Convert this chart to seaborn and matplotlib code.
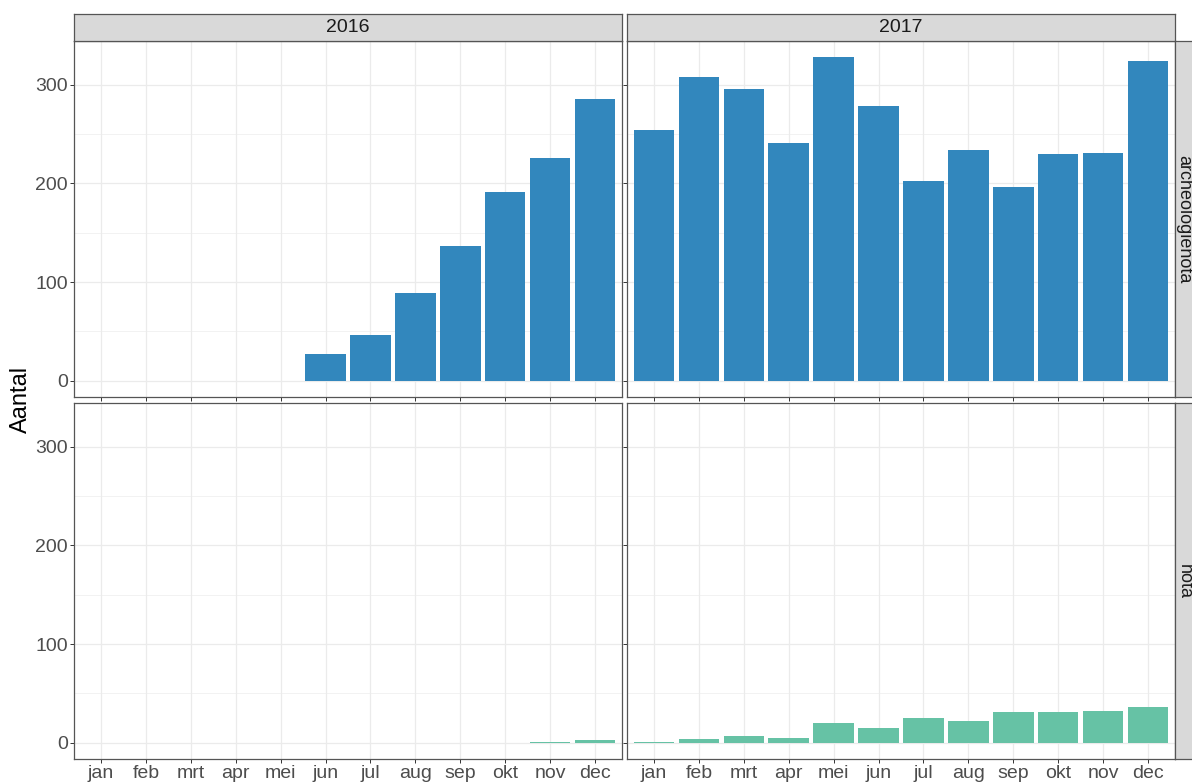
import numpy as np
import pandas as pd
import matplotlib
matplotlib.use("Agg")
import matplotlib.pyplot as plt
import seaborn as sns

# Monthly counts per year and document type
maanden = ["jan", "feb", "mrt", "apr", "mei", "jun", "jul", "aug", "sep", "okt", "nov", "dec"]
jaren = ["2016", "2017"]
soorten = ["archeologienota", "nota"]

archeologienota_2016 = [np.nan, np.nan, np.nan, np.nan, np.nan, 27, 46, 89, 137, 191, 226, 286]
archeologienota_2017 = [254, 308, 296, 241, 328, 279, 203, 234, 196, 230, 231, 324]
nota_2016 = [np.nan, np.nan, np.nan, np.nan, np.nan, np.nan, np.nan, np.nan, np.nan, np.nan, 1, 3]
nota_2017 = [1, 4, 7, 5, 20, 15, 25, 22, 31, 31, 32, 36]

kleuren = {"archeologienota": "#3287bd", "nota": "#66c2a5"}

rows = []
for soort, jaar, waarden in [
    ("archeologienota", "2016", archeologienota_2016),
    ("archeologienota", "2017", archeologienota_2017),
    ("nota", "2016", nota_2016),
    ("nota", "2017", nota_2017),
]:
    for m, v in zip(maanden, waarden):
        rows.append({"soort": soort, "jaar": jaar, "maand": m, "aantal": v})
df = pd.DataFrame(rows).dropna()

sns.set_theme(style="white")
plt.rcParams["font.family"] = ["Liberation Sans", "DejaVu Sans"]

W, H = 1192, 782
fig = plt.figure(figsize=(W / 100, H / 100), dpi=100)

def fig_rect(x0, y0, x1, y1):
    return [x0 / W, 1 - y1 / H, (x1 - x0) / W, (y1 - y0) / H]

col_x = [(74, 622), (627, 1175)]
row_y = [(41, 397), (403, 759)]

ymax = df["aantal"].max()
pad = 0.05 * ymax
border = "#555555"
grid = "#EBEBEB"

for r, soort in enumerate(soorten):
    for c, jaar in enumerate(jaren):
        x0, x1 = col_x[c]
        y0, y1 = row_y[r]
        ax = fig.add_axes(fig_rect(x0, y0, x1, y1))
        sub = df[(df["soort"] == soort) & (df["jaar"] == jaar)]
        sns.barplot(data=sub, x="maand", y="aantal", order=maanden,
                    color=kleuren[soort], saturation=1, width=0.9,
                    errorbar=None, linewidth=0, ax=ax, zorder=3)
        ax.set_xlim(-0.6, 11.6)
        ax.set_ylim(-pad, ymax + pad)
        ax.set_yticks([0, 100, 200, 300])
        ax.set_yticks([50, 150, 250], minor=True)
        ax.set_axisbelow(True)
        ax.grid(True, which="major", axis="both", color=grid, lw=0.9, zorder=0)
        ax.grid(True, which="minor", axis="y", color=grid, lw=0.45, zorder=0)
        ax.set_xlabel("")
        ax.set_ylabel("")
        for s in ax.spines.values():
            s.set_color(border)
            s.set_linewidth(0.9)
            s.set_visible(True)
        ax.tick_params(axis="both", which="major", length=3, width=0.7,
                       color="#333333", labelcolor="#4d4d4d", labelsize=14, pad=1.5,
                       left=True, bottom=True)
        ax.tick_params(axis="both", which="minor", length=0)
        if c != 0:
            ax.tick_params(axis="y", labelleft=False)
        if r != len(soorten) - 1:
            ax.tick_params(axis="x", labelbottom=False)

        # Column strip on top
        if r == 0:
            sax = fig.add_axes(fig_rect(x0, 14, x1, y0))
            sax.set_facecolor("#D9D9D9")
            sax.set_xticks([]); sax.set_yticks([])
            for s in sax.spines.values():
                s.set_color(border); s.set_linewidth(0.9)
            sax.text(0.5, 0.5, jaar, ha="center", va="center",
                     fontsize=14, color="#1a1a1a", transform=sax.transAxes)
        # Row strip on the right
        if c == len(jaren) - 1:
            sax = fig.add_axes(fig_rect(x1, y0, x1 + 27, y1))
            sax.set_facecolor("#D9D9D9")
            sax.set_xticks([]); sax.set_yticks([])
            for s in sax.spines.values():
                s.set_color(border); s.set_linewidth(0.9)
            fig.text((x1 + 9) / W, 1 - (y0 + y1) / 2 / H, soort,
                     ha="center", va="center", rotation=-90,
                     fontsize=13, color="#1a1a1a")

fig.text(21 / W, 1 - 399 / H, "Aantal", rotation=90, ha="center", va="center",
         fontsize=17, color="black")

fig.savefig("out.png", dpi=100)
